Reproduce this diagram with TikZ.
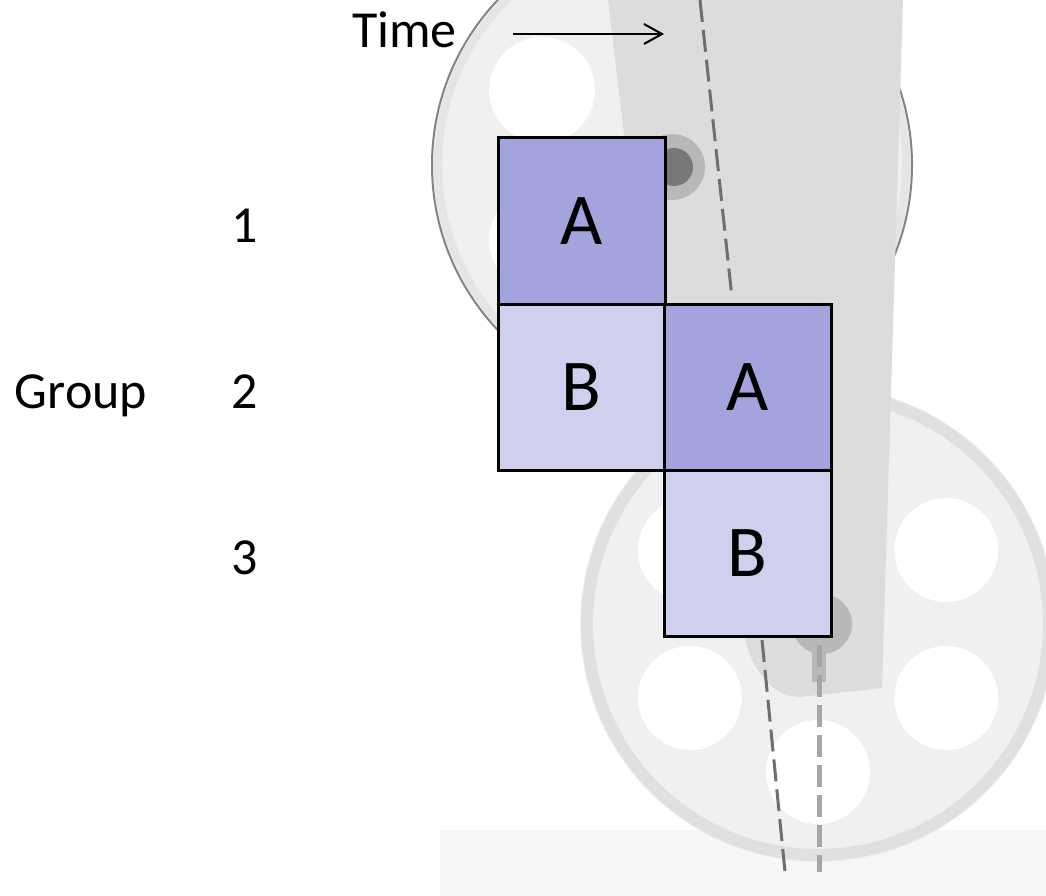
\documentclass[tikz,border=0pt]{standalone}
\usepackage{fontspec}
\setmainfont{Carlito}
\usetikzlibrary{arrows.meta,calc}
\definecolor{reelfill}{HTML}{F0F0F0}
\definecolor{reelring}{HTML}{E5E5E5}
\definecolor{reeledge}{HTML}{848484}
\definecolor{rimgray}{HTML}{E0E0E0}
\definecolor{stripgray}{HTML}{DCDCDC}
\definecolor{hubhalo}{HTML}{B8B8B8}
\definecolor{hubdark}{HTML}{787878}
\definecolor{dashdark}{HTML}{6E6E6E}
\definecolor{dashlight}{HTML}{A6A6A6}
\definecolor{groundgray}{HTML}{F6F6F6}
\definecolor{boxA}{RGB}{163,164,222}
\definecolor{boxB}{RGB}{207,208,238}
\tikzset{
  cell/.style={draw=black, line width=3pt, minimum width=167pt, minimum height=166pt,
    inner sep=0pt, anchor=center, font=\fontsize{73pt}{80pt}\selectfont},
  cellA/.style={cell, fill=boxA},
  cellB/.style={cell, fill=boxB},
  lbl/.style={anchor=base, inner sep=0pt, font=\fontsize{52pt}{60pt}\selectfont},
  filmdash/.style={dashdark, line width=3pt, dash pattern=on 22pt off 8pt},
  filmdashlight/.style={dashlight, line width=5pt, dash pattern=on 22pt off 8pt},
}
\begin{document}
\begin{tikzpicture}[x=1pt,y=-1pt]
\useasboundingbox (0,0) rectangle (1046,896);
\fill[white] (0,0) rectangle (1046,896);
\begin{scope}
\clip (0,0) rectangle (1046,896);
% ground
\fill[groundgray] (440,830) rectangle (1046,896);
% bottom reel
\fill[reelfill] (818,624) circle (238);
\draw[rimgray, line width=12pt] (818,624) circle (231);
\foreach \a in {30,90,150,210,270,330}
  \fill[white] ($(818,624)+(\a:148)$) circle (52);
% top reel
\fill[reelfill] (672,165) circle (240);
\draw[reelring, line width=8pt] (672,165) circle (234);
\draw[reeledge, line width=2pt] (672,165) circle (240);
\foreach \a in {30,90,150,210,270,330}
  \fill[white] ($(672,165)+(\a:150)$) circle (53);
% film strip
\fill[stripgray] (608,0) -- (903,0) -- (882,688) -- (800,697)
  .. controls (770,697) and (750,665) .. (745,637) -- (664,470) -- cycle;
% hubs
\fill[hubhalo] (672,167) circle (33);
\fill[hubdark] (674,167) circle (19);
\fill[hubhalo] (822,624) circle (30);
\fill[hubhalo] (812,640) rectangle (826,682);
% film dashed lines
\draw[filmdash] (700,0) -- (732,298);
\draw[filmdash] (762,640) -- (785,872);
\draw[filmdashlight] (819,645) -- (819,872);
\end{scope}
% cells
\node[cellA] (a1) at (581.5,221) {A};
\node[cellB] (b2) at (581.5,387) {B};
\node[cellA] (a2) at (747.5,387) {A};
\node[cellB] (b3) at (747.5,553.5) {B};
% labels
\node[lbl] (time) at (404.5,48) {Time};
\node[lbl] (g1) at (245,242) {1};
\node[lbl] (g2) at (245,408) {2};
\node[lbl] (g3) at (245,574) {3};
\node[lbl] (group) at (81,408) {Group};
% time arrow
\coordinate (ta) at (513,34);
\coordinate (tb) at (664,34);
\draw[line width=2pt, -{Straight Barb[length=18pt,width=20pt]}] (ta) -- (tb);
\end{tikzpicture}
\end{document}
